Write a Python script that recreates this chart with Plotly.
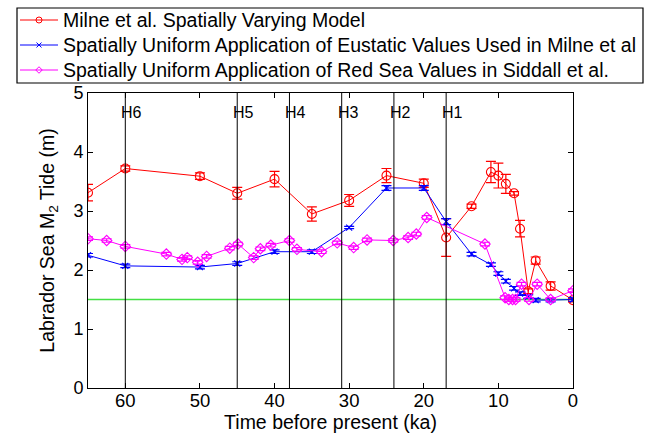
import plotly.graph_objects as go

# Milne et al. spatially varying model
t_milne = [65, 60, 50, 45, 40, 35, 30, 25, 20, 17, 13.6, 11, 10, 9, 7.9, 7.1, 6, 5, 3, 0]
v_milne = [3.31, 3.72, 3.59, 3.30, 3.54, 2.95, 3.18, 3.60, 3.47, 2.55, 3.08, 3.66, 3.60, 3.46, 3.30, 2.70, 1.64, 2.16, 1.73, 1.49]
e_milne = [0.14, 0.045, 0.055, 0.10, 0.13, 0.12, 0.10, 0.12, 0.07, 0.32, 0.035, 0.18, 0.21, 0.16, 0.03, 0.14, 0.04, 0.06, 0.07, 0.03]

# Spatially uniform, eustatic values used in Milne et al
t_eus = [65, 60, 50, 45, 40, 35, 30, 25, 20, 17, 13.6, 11, 10, 9, 7.9, 7.1, 6, 5, 3, 0]
v_eus = [2.25, 2.07, 2.05, 2.11, 2.31, 2.31, 2.72, 3.39, 3.39, 2.82, 2.27, 2.09, 1.94, 1.81, 1.69, 1.60, 1.55, 1.49, 1.49, 1.50]
e_eus = [0.03, 0.03, 0.03, 0.03, 0.03, 0.03, 0.02, 0.04, 0.04, 0.05, 0.03, 0.03, 0.03, 0.03, 0.03, 0.03, 0.03, 0.03, 0.03, 0.03]

# Spatially uniform, Red Sea values in Siddall et al.
t_rs = [65, 62.5, 60, 54.5, 52.4, 51.7, 50.3, 49.1, 46, 44.9, 42.8, 41.9, 40.5, 38, 37, 33.7,
        31.6, 29.4, 27.6, 24.1, 22.1, 21, 19.6, 11.8, 9.1, 8.6, 8.1, 7.7, 6.9, 5.9, 4.8, 3.0, 0]
v_rs = [2.53, 2.50, 2.40, 2.27, 2.18, 2.21, 2.13, 2.23, 2.37, 2.44, 2.21, 2.36, 2.42, 2.50, 2.35, 2.31,
        2.46, 2.38, 2.51, 2.50, 2.55, 2.61, 2.89, 2.44, 1.53, 1.50, 1.50, 1.50, 1.76, 1.50, 1.76, 1.50, 1.65]
e_rs = [0.03] * len(v_rs)

# Heinrich events
h_names = ["H6", "H5", "H4", "H3", "H2", "H1"]
h_ages = [60, 45, 38, 31, 24, 17]

present_level = 1.5
x_ticks = [60, 50, 40, 30, 20, 10, 0]
y_ticks = [0, 1, 2, 3, 4, 5]

series_names = ["Milne et al. Spatially Varying Model",
                "Spatially Uniform Application of Eustatic Values Used in Milne et al",
                "Spatially Uniform Application of Red Sea Values in Siddall et al."]
series_colors = ["#ff0000", "#0000ff", "#ff00ff"]
series_symbols = ["circle-open", "x-thin-open", "diamond-open"]
series_msize = [9, 6, 8]

FONT = "Liberation Sans, Arial, Helvetica, sans-serif"
W, H = 649, 433
PLOT_L, PLOT_R, PLOT_T, PLOT_B = 88, 573, 93, 388

fig = go.Figure()

fig.add_trace(go.Scatter(
    x=[max(t_milne), min(t_milne)], y=[present_level, present_level], mode="lines",
    line=dict(color="#44e044", width=1.5), showlegend=False, hoverinfo="skip"))

data = [(t_milne, v_milne, e_milne), (t_eus, v_eus, e_eus), (t_rs, v_rs, e_rs)]
for (tx, vy, ey), name, col, sym, ms in zip(data, series_names, series_colors, series_symbols, series_msize):
    fig.add_trace(go.Scatter(
        x=tx, y=vy, mode="lines+markers", name=name, showlegend=False,
        line=dict(color=col, width=1),
        marker=dict(symbol=sym, size=ms, color=col, line=dict(width=1.1, color=col)),
        error_y=dict(type="data", array=ey, color=col, thickness=1.2, width=5)))

for name, age in zip(h_names, h_ages):
    fig.add_shape(type="line", xref="x", yref="y", x0=age, x1=age, y0=y_ticks[0], y1=y_ticks[-1],
                  line=dict(color="black", width=1), layer="above")
    fig.add_annotation(x=age, y=4.67, xref="x", yref="y", text=name, showarrow=False,
                       xanchor="left", yanchor="middle", xshift=-6,
                       font=dict(family=FONT, size=16, color="black"))

# Manual legend drawn on a full-figure overlay axis (pixel units)
LEG_X0, LEG_X1, LEG_Y0, LEG_Y1 = 17, 643, 8, 83
leg_rows = [20, 45, 70]
fig.add_shape(type="rect", xref="x2", yref="y2", x0=LEG_X0, x1=LEG_X1, y0=LEG_Y0, y1=LEG_Y1,
              line=dict(color="black", width=1.2), fillcolor="white", layer="below")
for row, name, col, sym, ms in zip(leg_rows, series_names, series_colors, series_symbols, series_msize):
    fig.add_trace(go.Scatter(x=[20, 58], y=[row, row], xaxis="x2", yaxis="y2", mode="lines",
                             line=dict(color=col, width=1), showlegend=False, hoverinfo="skip"))
    fig.add_trace(go.Scatter(x=[39], y=[row], xaxis="x2", yaxis="y2", mode="markers",
                             marker=dict(symbol=sym, size=max(ms - 3, 5), color=col,
                                         line=dict(width=1, color=col)),
                             showlegend=False, hoverinfo="skip"))
    fig.add_annotation(x=61, y=row, xref="x2", yref="y2", text=name, showarrow=False,
                       xanchor="left", yanchor="middle",
                       font=dict(family=FONT, size=19.5, color="black"))

fig.update_layout(
    width=W, height=H,
    margin=dict(l=0, r=0, t=0, b=0),
    paper_bgcolor="white", plot_bgcolor="rgba(0,0,0,0)",
    font=dict(family=FONT, size=18, color="black"),
    showlegend=False,
    xaxis=dict(domain=[PLOT_L / W, PLOT_R / W], anchor="y", automargin=False,
               range=[65, 0], tickvals=x_ticks, ticks="inside", ticklen=5, tickcolor="black",
               showline=True, linecolor="black", linewidth=1, mirror="ticks", showgrid=False,
               zeroline=False, ticklabelstandoff=-4,
               title=dict(text="Time before present (ka)", standoff=7, font=dict(size=19.5)),
               tickfont=dict(size=18.5)),
    yaxis=dict(domain=[(H - PLOT_B) / H, (H - PLOT_T) / H], anchor="x", automargin=False,
               range=[0, 5], tickvals=y_ticks, ticks="inside", ticklen=5, tickcolor="black",
               showline=True, linecolor="black", linewidth=1, mirror="ticks", showgrid=False,
               zeroline=False,
               title=dict(text="Labrador Sea M<sub>2</sub> Tide (m)", standoff=13, font=dict(size=19.5)),
               tickfont=dict(size=18)),
    xaxis2=dict(domain=[0, 1], anchor="y2", range=[0, W], visible=False, fixedrange=True),
    yaxis2=dict(domain=[0, 1], anchor="x2", range=[H, 0], visible=False, fixedrange=True),
)

fig.write_html("out.html")
